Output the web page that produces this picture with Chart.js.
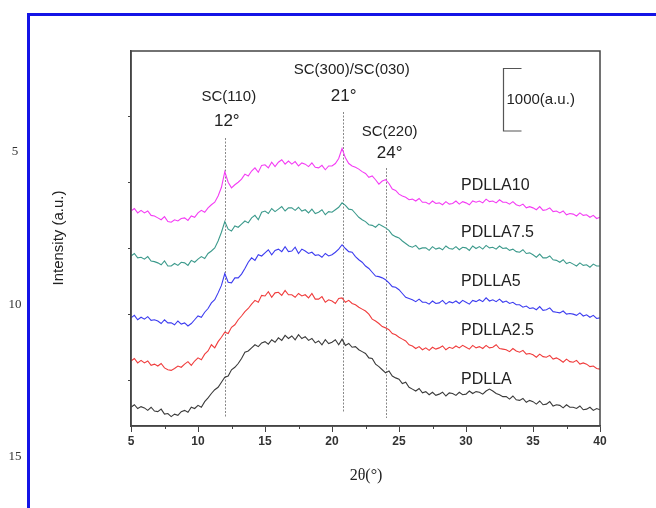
<!DOCTYPE html>
<html>
<head>
<meta charset="utf-8">
<script src="https://cdn.jsdelivr.net/npm/chart.js@4"></script>
<style>
  html, body { margin: 0; padding: 0; background: #fff; }
  canvas { display: block; }
</style>
</head>
<body>
<canvas id="chart" width="656" height="508"></canvas>
<script>
// XRD scan, 2theta from 5 to 40 deg, 0.25 deg step
const startAngle = 5
const stepAngle = 0.25

// intensities (a.u.), curves already offset as in the figure
const pdlla = [
    300, 340, 280, 310,  290, 250, 300, 240,  230, 270, 190, 200,  150, 190, 170, 230,
    250, 220, 300, 280,  330, 300, 390, 450,  520, 580, 620, 700,  780, 800, 900, 940,
    1000, 1080, 1180, 1200,  1250, 1300, 1270, 1330,  1350, 1310, 1380, 1340,  1410, 1370, 1450, 1400,
    1440, 1380, 1460, 1400,  1430, 1370, 1400, 1330,  1360, 1300, 1380, 1320,  1340, 1380, 1300, 1390,
    1290, 1320, 1260, 1270,  1220, 1190, 1160, 1090,  1080, 990, 950, 900,  850, 880, 800, 770,
    750, 680, 700, 620,  590, 560, 600, 530,  550, 500, 540, 490,  510, 540, 480, 530,
    520, 490, 540, 500,  510, 560, 520, 550,  540, 510, 560, 590,  560, 520, 500, 470,
    470, 430, 480, 420,  410, 440, 380, 410,  390, 350, 400, 340,  350, 390, 320, 340,
    330, 290, 340, 300,  300, 280, 320, 260,  270, 300, 250, 280,  260
]
const pdlla25 = [
    1040, 1080, 1010, 1050,  1010, 1040, 970, 990,  960, 1000, 930, 900,  890, 920, 960, 940,
    990, 1030, 970, 1040,  1090, 1060, 1150, 1200,  1300, 1250, 1350, 1420,  1500, 1480, 1580, 1620,
    1700, 1760, 1830, 1880,  1950, 2010, 1980, 2090,  2080, 2150, 2060, 2130,  2140, 2090, 2170, 2100,
    2100, 2060, 2120, 2080,  2100, 2050, 2120, 2030,  2030, 2070, 1980, 2020,  2000, 1960, 2040, 2050,
    1980, 2010, 1960, 1940,  1900, 1870, 1840, 1790,  1710, 1680, 1640, 1590,  1570, 1540, 1480, 1460,
    1420, 1390, 1360, 1300,  1280, 1240, 1270, 1220,  1250, 1210, 1260, 1230,  1250, 1280, 1220, 1260,
    1240, 1280, 1250, 1290,  1260, 1230, 1290, 1250,  1270, 1240, 1290, 1250,  1260, 1300, 1240, 1230,
    1220, 1190, 1240, 1200,  1180, 1210, 1150, 1160,  1140, 1100, 1150, 1110,  1100, 1130, 1070, 1090,
    1060, 1020, 1070, 1030,  1020, 1050, 990, 1010,  990, 950, 960, 920,  910
]
const pdlla5 = [
    1730, 1770, 1700, 1740,  1710, 1750, 1690, 1700,  1680, 1640, 1700, 1650,  1650, 1620, 1680, 1630,
    1650, 1600, 1640, 1700,  1760, 1740, 1820, 1880,  1970, 2020, 2130, 2250,  2440, 2300, 2290, 2370,
    2370, 2430, 2520, 2620,  2690, 2650, 2740, 2720,  2770, 2820, 2740, 2810,  2830, 2790, 2870, 2790,
    2800, 2860, 2760, 2830,  2800, 2760, 2780, 2730,  2740, 2700, 2760, 2720,  2740, 2780, 2830, 2900,
    2840, 2790, 2780, 2710,  2660, 2620, 2560, 2520,  2460, 2400, 2390, 2370,  2340, 2290, 2230, 2220,
    2180, 2120, 2060, 2040,  2020, 1990, 2030, 1980,  1980, 1950, 2000, 1960,  1970, 2010, 1950, 1990,
    1970, 2000, 1960, 2010,  1980, 1950, 2010, 1990,  2020, 1990, 2050, 2000,  2020, 1990, 2030, 1980,
    2000, 1960, 1980, 1940,  1940, 1900, 1920, 1880,  1890, 1860, 1910, 1850,  1860, 1890, 1830, 1820,
    1810, 1840, 1790, 1800,  1790, 1770, 1810, 1760,  1780, 1740, 1770, 1720,  1730
]
const pdlla75 = [
    2720, 2760, 2690, 2700,  2670, 2710, 2640, 2630,  2610, 2580, 2640, 2560,  2560, 2600, 2570, 2620,
    2610, 2570, 2650, 2620,  2670, 2710, 2680, 2760,  2800, 2850, 2960, 3100,  3270, 3150, 3120, 3200,
    3180, 3230, 3280, 3250,  3330, 3370, 3300, 3420,  3440, 3400, 3480, 3430,  3470, 3510, 3440, 3490,
    3490, 3450, 3500, 3440,  3460, 3410, 3470, 3400,  3420, 3460, 3380, 3430,  3420, 3460, 3500, 3570,
    3530, 3470, 3460, 3400,  3340, 3300, 3270, 3220,  3210, 3180, 3230, 3200,  3170, 3130, 3060, 3030,
    3010, 2960, 2920, 2880,  2860, 2890, 2830, 2850,  2850, 2810, 2870, 2830,  2850, 2820, 2880, 2840,
    2830, 2870, 2820, 2860,  2850, 2810, 2880, 2840,  2870, 2830, 2890, 2850,  2860, 2830, 2880, 2840,
    2850, 2810, 2830, 2790,  2780, 2820, 2760, 2770,  2740, 2700, 2750, 2690,  2690, 2720, 2660, 2650,
    2620, 2660, 2600, 2620,  2590, 2560, 2610, 2570,  2580, 2540, 2590, 2560,  2560
]
const pdlla10 = [
    3440, 3480, 3410, 3450,  3410, 3440, 3370, 3360,  3330, 3300, 3350, 3270,  3260, 3300, 3280, 3320,
    3330, 3290, 3360, 3340,  3410, 3450, 3420, 3490,  3540, 3580, 3680, 3820,  4070, 3900, 3810, 3860,
    3900, 3950, 4030, 4000,  4080, 4130, 4060, 4170,  4180, 4130, 4220, 4150,  4220, 4260, 4190, 4240,
    4190, 4230, 4160, 4210,  4190, 4150, 4210, 4140,  4130, 4170, 4100, 4160,  4160, 4200, 4280, 4440,
    4290, 4200, 4160, 4140,  4110, 4070, 4040, 3980,  4000, 3940, 3870, 3920,  3940, 3880, 3790, 3770,
    3710, 3680, 3660, 3620,  3630, 3600, 3640, 3580,  3580, 3550, 3600, 3560,  3570, 3540, 3590, 3550,
    3560, 3600, 3550, 3590,  3570, 3540, 3600, 3580,  3600, 3570, 3630, 3590,  3600, 3570, 3620, 3580,
    3580, 3550, 3590, 3540,  3520, 3550, 3490, 3510,  3490, 3460, 3510, 3450,  3460, 3490, 3430, 3440,
    3410, 3440, 3380, 3400,  3390, 3360, 3410, 3370,  3380, 3340, 3370, 3320,  3340
]

const sampleNames = ['PDLLA', 'PDLLA2.5', 'PDLLA5', 'PDLLA7.5', 'PDLLA10']
const sampleColors = ['#3a3a3a', '#f03c3c', '#3c3cf0', '#3c9a8c', '#f43cf4']
const xTicks = [5, 10, 15, 20, 25, 30, 35, 40]
const peakAngles = [12, 20.8, 24]
const peakNames = ['SC(110)', 'SC(300)/SC(030)', 'SC(220)']
const peakDegrees = ['12°', '21°', '24°']
const scaleBarSize = 1000
const lineNumbers = ['5', '10', '15']

const series = [pdlla, pdlla25, pdlla5, pdlla75, pdlla10]
const twoTheta = pdlla.map((v, i) => startAngle + i * stepAngle)

const datasets = series.map((s, k) => ({
    label: sampleNames[k],
    data: s.map((v, i) => ({x: twoTheta[i], y: v})),
    borderColor: sampleColors[k],
    borderWidth: 1.1,
    pointRadius: 0,
    fill: false,
    tension: 0
}))

const sansFont = "'Liberation Sans', Arial, sans-serif"
const serifFont = "'Liberation Serif', 'Times New Roman', serif"

const decor = {
    id: 'decor',
    beforeDatasetsDraw(chart) {
        const {ctx, scales: {x, y}} = chart
        // dotted guide lines at the peaks
        const tops = [4608, 5024, 4128]
        const bottoms = [128, 208, 128]
        ctx.save()
        ctx.strokeStyle = '#888'
        ctx.lineWidth = 1
        ctx.setLineDash([2, 1.5])
        peakAngles.forEach((a, i) => {
            const px = Math.round(x.getPixelForValue(a)) + 0.5
            ctx.beginPath()
            ctx.moveTo(px, y.getPixelForValue(tops[i]))
            ctx.lineTo(px, y.getPixelForValue(bottoms[i]))
            ctx.stroke()
        })
        ctx.restore()
    },
    afterDraw(chart) {
        const {ctx, chartArea: a, scales: {x, y}} = chart
        ctx.save()

        // box round the plot
        ctx.strokeStyle = '#444'
        ctx.lineWidth = 1.5
        ctx.strokeRect(a.left, a.top, a.right - a.left, a.bottom - a.top)

        // minor x ticks
        ctx.lineWidth = 1
        for (let v = 7.5; v < 40; v += 5) {
            const px = Math.round(x.getPixelForValue(v)) + 0.5
            ctx.beginPath()
            ctx.moveTo(px, a.bottom)
            ctx.lineTo(px, a.bottom + 3)
            ctx.stroke()
        }

        // peak labels
        ctx.fillStyle = '#222'
        ctx.textAlign = 'center'
        ctx.textBaseline = 'middle'
        const nameY = [97, 70, 132]
        const nameDx = [4, 9, 4]
        const degY = [121, 96, 153]
        const degDx = [2, 1, 4]
        peakAngles.forEach((ang, i) => {
            const px = x.getPixelForValue(ang)
            ctx.font = '15px ' + sansFont
            ctx.fillText(peakNames[i], px + nameDx[i], nameY[i])
            ctx.font = '17px ' + sansFont
            ctx.fillText(peakDegrees[i], px + degDx[i], degY[i])
        })

        // scale bar
        const bx = Math.round(x.getPixelForValue(32.75)) + 0.5
        const by0 = y.getPixelForValue(4720)
        const by1 = y.getPixelForValue(4720 + scaleBarSize)
        ctx.strokeStyle = '#555'
        ctx.lineWidth = 1.2
        ctx.beginPath()
        ctx.moveTo(bx + 18, by1)
        ctx.lineTo(bx, by1)
        ctx.lineTo(bx, by0)
        ctx.lineTo(bx + 18, by0)
        ctx.stroke()
        ctx.textAlign = 'left'
        ctx.font = '15px ' + sansFont
        ctx.fillText(scaleBarSize + '(a.u.)', bx + 3, (by0 + by1) / 2)

        // sample names
        const nameVals = [736, 1520, 2304, 3088, 3840]
        ctx.font = '16px ' + sansFont
        sampleNames.forEach((n, i) => {
            ctx.fillText(n, x.getPixelForValue(29.63), y.getPixelForValue(nameVals[i]))
        })

        // axis titles
        ctx.textAlign = 'center'
        ctx.font = '16px ' + serifFont
        ctx.fillText('2θ(°)', 366, 476)
        ctx.save()
        ctx.translate(59, 238)
        ctx.rotate(-Math.PI / 2)
        ctx.font = '15px ' + sansFont
        ctx.fillText('Intensity (a.u.)', 0, 0)
        ctx.restore()

        // document frame and line numbers
        ctx.strokeStyle = '#1414e6'
        ctx.lineWidth = 3
        ctx.beginPath()
        ctx.moveTo(656, 14.5)
        ctx.lineTo(28.5, 14.5)
        ctx.lineTo(28.5, 508)
        ctx.stroke()
        ctx.fillStyle = '#333'
        ctx.font = '13px ' + serifFont
        const lnY = [152, 305, 457]
        lineNumbers.forEach((t, i) => ctx.fillText(t, 15, lnY[i]))

        ctx.restore()
    }
}

new Chart(document.getElementById('chart'), {
    type: 'line',
    data: {datasets},
    options: {
        responsive: false,
        animation: false,
        layout: {padding: {top: 51, right: 56, left: 0, bottom: 0}},
        plugins: {legend: {display: false}, tooltip: {enabled: false}},
        scales: {
            x: {
                type: 'linear',
                min: 5,
                max: 40,
                afterBuildTicks: s => { s.ticks = xTicks.map(v => ({value: v})) },
                afterFit: s => { s.height = 82 },
                ticks: {
                    autoSkip: false,
                    maxRotation: 0,
                    padding: 2,
                    color: '#333',
                    font: {family: sansFont, size: 12, weight: 'bold'}
                },
                grid: {drawOnChartArea: false, tickLength: 6, tickColor: '#444'},
                border: {color: '#444', width: 1.5}
            },
            y: {
                min: 0,
                max: 6000,
                afterBuildTicks: s => { s.ticks = [736, 1792, 2848, 3904, 4960].map(v => ({value: v})) },
                afterFit: s => { s.width = 131 },
                ticks: {display: false},
                grid: {drawOnChartArea: false, tickLength: 3, tickColor: '#444'},
                border: {color: '#444', width: 1.5}
            }
        }
    },
    plugins: [decor]
})
</script>
</body>
</html>
